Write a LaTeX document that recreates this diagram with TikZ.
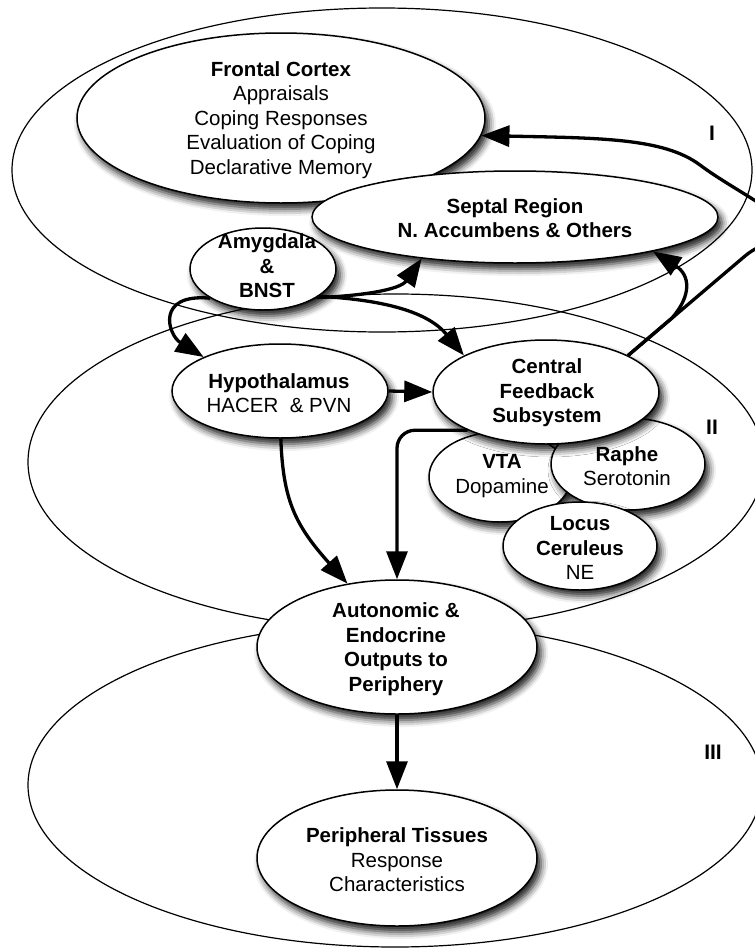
\documentclass[tikz,border=0pt]{standalone}
\usepackage{fontspec}
\setmainfont{Liberation Sans}
\usetikzlibrary{shapes.geometric,arrows.meta,shadows.blur}

\begin{document}
\begin{tikzpicture}[x=1pt,y=-1pt,
  region/.style={ellipse, draw=black, line width=1.2pt, inner sep=0pt},
  unit/.style={ellipse, draw=black, line width=1.5pt, fill=white, inner sep=0pt,
    blur shadow={shadow xshift=4pt, shadow yshift=-6pt, shadow blur radius=7pt, shadow opacity=90}},
  lbl/.style={align=center, font=\fontsize{20.5}{24.5}\selectfont, inner sep=0pt},
  roman/.style={font=\fontsize{21}{24}\selectfont\bfseries, inner sep=0pt},
  conn/.style={line width=3.3pt, -{Triangle[length=28pt,width=21pt]}},
]
\useasboundingbox (0,0) rectangle (755,948);
\clip (0,0) rectangle (755,948);

% large regions
\node[region, minimum width=740pt, minimum height=324pt] (zoneI) at (382,170) {};
\node[region, minimum width=736pt, minimum height=336pt] (zoneII) at (396,462) {};
\node[region, minimum width=734pt, minimum height=324pt] (zoneIII) at (395,785) {};

\node[roman] (labI) at (712,133) {I};
\node[roman] (labII) at (712,427) {II};
\node[roman] (labIII) at (713,752) {III};

% units
\node[unit, minimum width=408pt, minimum height=170pt] (fc) at (281,118) {};
\node[unit, minimum width=406pt, minimum height=92pt] (sr) at (515,217) {};
\node[unit, minimum width=146pt, minimum height=82pt] (am) at (263,269) {};
\node[unit, minimum width=216pt, minimum height=94pt] (hy) at (280,391) {};
\node[unit, minimum width=142pt, minimum height=90pt] (vta) at (500,477) {};
\node[unit, minimum width=154pt, minimum height=92pt] (ra) at (628,464) {};
\node[unit, minimum width=154pt, minimum height=88pt] (lc) at (580,546) {};
\node[unit, minimum width=226pt, minimum height=104pt] (cf) at (546,392) {};
\node[unit, minimum width=280pt, minimum height=134pt] (au) at (397,647) {};
\node[unit, minimum width=280pt, minimum height=136pt] (pt) at (397,858) {};

% texts
\node[lbl] (fc-t) at (281,120) {\textbf{Frontal Cortex}\\Appraisals\\Coping Responses\\Evaluation of Coping\\Declarative Memory};
\node[lbl] (sr-t) at (515,218) {\textbf{Septal Region}\\\textbf{N. Accumbens \& Others}};
\node[lbl] (am-t) at (267,266) {\textbf{Amygdala}\\\textbf{\&}\\\textbf{BNST}};
\node[lbl] (hy-t) at (279,393) {\textbf{Hypothalamus}\\HACER\ \ \& PVN};
\node[lbl] (cf-t) at (547,393) {\textbf{Central}\\\textbf{Feedback}\\\textbf{Subsystem}};
\node[lbl] (vta-t) at (502,476) {\textbf{VTA}\\Dopamine};
\node[lbl] (ra-t) at (627,466) {\textbf{Raphe}\\Serotonin};
\node[lbl] (lc-t) at (580,548) {\textbf{Locus}\\\textbf{Ceruleus}\\NE};
\node[lbl] (au-t) at (396,649) {\textbf{Autonomic \&}\\\textbf{Endocrine}\\\textbf{Outputs to}\\\textbf{Periphery}};
\node[lbl] (pt-t) at (397,860) {\textbf{Peripheral Tissues}\\Response\\Characteristics};

% connectors
\draw[conn] (am.-28) .. controls (360,296) and (400,290) .. (sr.-156);
\draw[conn] (am.-26) .. controls (385,300) and (428,312) .. (cf.156);
\draw[conn] (am.-151) .. controls (155,293) and (168,335) .. (hy.156);
\draw[conn] (hy.east) -- (cf.west);
\draw[conn] (hy.-89) .. controls (283,500) and (295,525) .. (au.128);
\draw[conn, rounded corners=18pt] (cf.-154) -| (au.north);
\draw[conn] (cf.24) -- (745,256) .. controls (764,240) and (785,242) .. (785,228)
   .. controls (785,214) and (732,189) .. (700,165)
   .. controls (664,138) and (600,138) .. (fc.-5);
\draw[conn] (cf.24) -- (672,318) .. controls (692,295) and (690,275) .. (sr.-14);
\draw[conn] (au.south) -- (pt.north);
\end{tikzpicture}
\end{document}
